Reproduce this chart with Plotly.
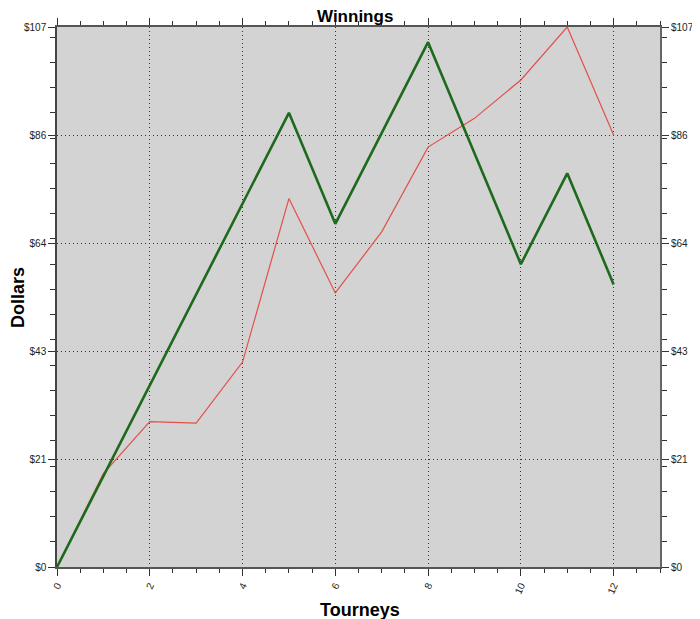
import plotly.graph_objects as go

tourneys = list(range(13))
green_dollars = [0, 18, 36, 54, 72, 90, 68, 86, 104, 82, 60, 78, 56]
red_dollars = [0, 18.5, 28.8, 28.5, 40.6, 73, 54.3, 66.4, 83.2, 88.9, 96.5, 107, 85.6]
y_max = 107
y_tickvals = [y_max * i / 5 for i in range(6)]
y_ticktext = ["$0", "$21", "$43", "$64", "$86", "$107"]
x_tickvals = [0, 2, 4, 6, 8, 10, 12]

fig = go.Figure()
fig.add_trace(go.Scatter(x=tourneys, y=red_dollars, mode="lines",
                         line=dict(color="#e2504c", width=1.2), showlegend=False))
fig.add_trace(go.Scatter(x=tourneys, y=green_dollars, mode="lines",
                         line=dict(color="#1d6a1d", width=2.6), showlegend=False))
# invisible trace so the right axis is drawn
fig.add_trace(go.Scatter(x=[0], y=[0], yaxis="y2", mode="markers",
                         marker=dict(opacity=0), showlegend=False, hoverinfo="skip"))

axis_font = dict(family="Liberation Sans, Arial", size=10, color="#222")
label_font = dict(family="Liberation Sans, Arial", size=18, color="black")
grid = dict(showgrid=True, gridcolor="#333", griddash="1px,3px", gridwidth=1)

# the page body adds an 8px offset, so the figure is sized to fit inside it
fig.update_layout(
    width=692, height=611,
    margin=dict(l=49, r=40, t=19, b=52),
    paper_bgcolor="white", plot_bgcolor="#d3d3d3",
    xaxis=dict(range=[0, 13], tickvals=x_tickvals, tickangle=-65, automargin=False,
               tickfont=axis_font, ticks="outside", ticklen=7, tickcolor="#333",
               minor=dict(dtick=0.5, tick0=0, ticks="outside", ticklen=4, tickcolor="#333"),
               showline=True, linecolor="#555", linewidth=1.5, mirror="ticks",
               zeroline=False, **grid),
    yaxis=dict(range=[0, y_max], tickvals=y_tickvals, ticktext=y_ticktext, automargin=False,
               tickfont=axis_font, ticks="outside", ticklen=7, tickcolor="#333",
               minor=dict(dtick=5, tick0=0, ticks="outside", ticklen=5, tickcolor="#333"),
               showline=True, linecolor="#444", linewidth=1.5, zeroline=False, **grid),
    yaxis2=dict(range=[0, y_max], overlaying="y", side="right", automargin=False,
                tickvals=y_tickvals, ticktext=y_ticktext,
                tickfont=axis_font, ticks="outside", ticklen=7, tickcolor="#333",
                minor=dict(dtick=5, tick0=0, ticks="outside", ticklen=5, tickcolor="#333"),
                showgrid=False, showline=True, linecolor="#666", linewidth=2,
                zeroline=False),
    annotations=[
        dict(text="<b>Winnings</b>", xref="paper", yref="paper", x=0.4942, y=1.019,
             xanchor="center", yanchor="middle", showarrow=False,
             font=dict(family="Liberation Sans, Arial", size=17, color="black")),
        dict(text="<b>Tourneys</b>", xref="paper", yref="paper", x=0.5025, y=-0.0796,
             xanchor="center", yanchor="middle", showarrow=False, font=label_font),
        dict(text="<b>Dollars</b>", xref="paper", yref="paper", x=-0.0647, y=0.5,
             xanchor="center", yanchor="middle", showarrow=False, textangle=-90,
             font=label_font),
    ],
)

fig.write_html("out.html")
